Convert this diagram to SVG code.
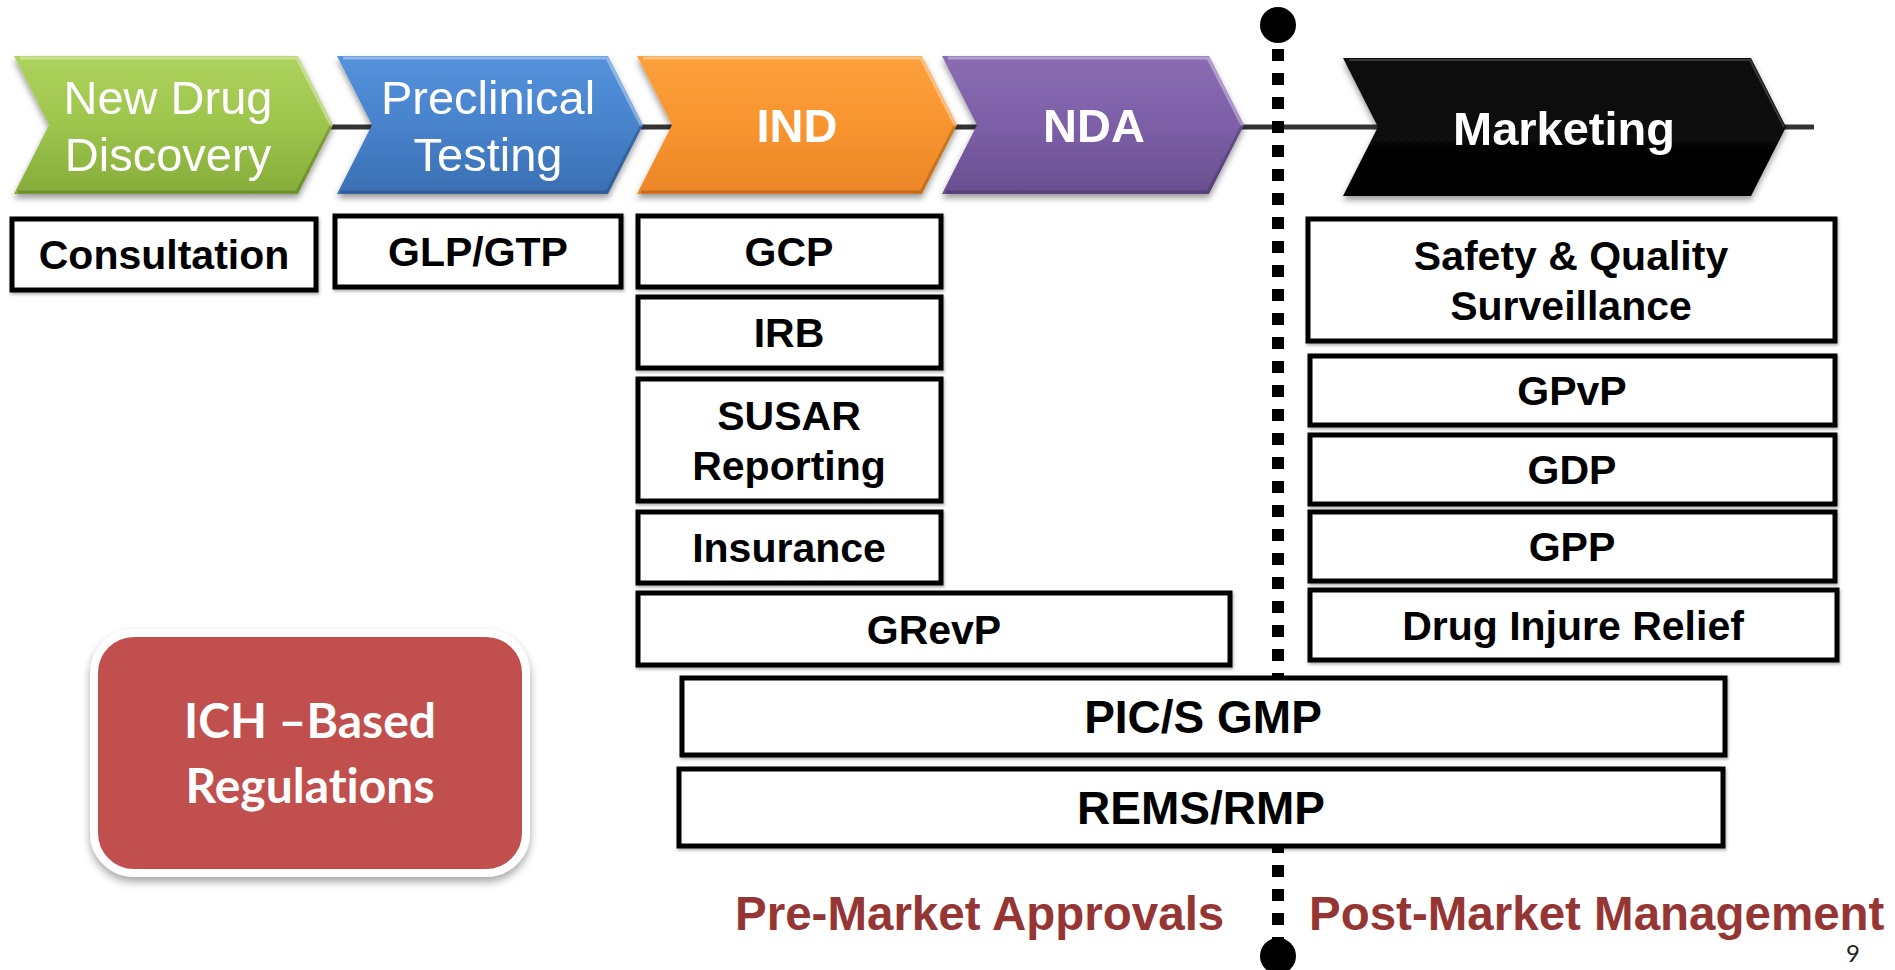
<svg xmlns="http://www.w3.org/2000/svg" width="1895" height="970" viewBox="0 0 1895 970">
  <defs>
    <linearGradient id="gGreen" x1="0" y1="0" x2="0" y2="1">
      <stop offset="0" stop-color="#aed35e"/>
      <stop offset="0.5" stop-color="#9dc44c"/>
      <stop offset="1" stop-color="#86ad3a"/>
    </linearGradient>
    <linearGradient id="gBlue" x1="0" y1="0" x2="0" y2="1">
      <stop offset="0" stop-color="#5592dc"/>
      <stop offset="0.5" stop-color="#4883cc"/>
      <stop offset="1" stop-color="#3a6fb3"/>
    </linearGradient>
    <linearGradient id="gOrange" x1="0" y1="0" x2="0" y2="1">
      <stop offset="0" stop-color="#fca03c"/>
      <stop offset="0.5" stop-color="#f8952f"/>
      <stop offset="1" stop-color="#ec8628"/>
    </linearGradient>
    <linearGradient id="gPurple" x1="0" y1="0" x2="0" y2="1">
      <stop offset="0" stop-color="#8a6db3"/>
      <stop offset="0.5" stop-color="#7c5fa7"/>
      <stop offset="1" stop-color="#6a4e90"/>
    </linearGradient>
    <linearGradient id="gBlack" x1="0" y1="0" x2="0" y2="1">
      <stop offset="0" stop-color="#111"/>
      <stop offset="1" stop-color="#000"/>
    </linearGradient>
    <filter id="chevShadow" x="-10%" y="-20%" width="120%" height="150%">
      <feDropShadow dx="0" dy="4" stdDeviation="3" flood-color="#000" flood-opacity="0.4"/>
    </filter>
    <filter id="boxShadow" x="-5%" y="-10%" width="110%" height="130%">
      <feDropShadow dx="1" dy="2" stdDeviation="1.5" flood-color="#000" flood-opacity="0.3"/>
    </filter>
    <filter id="ichShadow" x="-10%" y="-10%" width="120%" height="130%">
      <feDropShadow dx="0" dy="5" stdDeviation="4" flood-color="#000" flood-opacity="0.35"/>
    </filter>
  </defs>
  <style>
    .chev-text { font-family: "Liberation Sans", Arial, sans-serif; fill: #fff; text-anchor: middle; font-size: 47px; }
    .chev-bold { font-weight: bold; }
    .bevel-hi { fill: none; stroke: #fff; stroke-opacity: 0.35; stroke-width: 3; }
    .bevel-lo { fill: none; stroke: #000; stroke-opacity: 0.18; stroke-width: 3; }
    .box rect { fill: #fff; stroke: #000; stroke-width: 5; filter: url(#boxShadow); }
    .box text { font-family: "Liberation Sans", Arial, sans-serif; font-weight: bold; font-size: 41px; fill: #000; text-anchor: middle; }
    .box.big text { font-size: 46px; }
    .phase { font-family: "Liberation Sans", Arial, sans-serif; font-weight: bold; font-size: 47.5px; fill: #963634; }
    .ich-text { font-family: Lato, "Open Sans", sans-serif; font-weight: bold; font-size: 48px; fill: #fff; text-anchor: middle; font-variant-ligatures: none; }
  </style>

  <rect width="1895" height="970" fill="#fff"/>

  <!-- timeline spine and market divider -->
  <g id="connectors">
    <line x1="290" y1="127" x2="1814" y2="127" stroke="#333" stroke-width="5"/>
    <line x1="1278" y1="49" x2="1278" y2="940" stroke="#000" stroke-width="12" stroke-dasharray="12 12"/>
    <circle cx="1278" cy="25" r="18" fill="#000"/>
    <circle cx="1278" cy="956" r="18" fill="#000"/>
  </g>

  <!-- process chevrons -->
  <g id="chev-discovery" filter="url(#chevShadow)">
    <polygon points="14,56 298,56 333,125 298,194 14,194 49,125" fill="url(#gGreen)"/>
    <polyline class="bevel-hi" points="20,58 297,58 331,125"/>
    <polyline class="bevel-lo" points="331,126 297,192 18,192"/>
    <text class="chev-text" x="168" y="114">New Drug</text>
    <text class="chev-text" x="168" y="171">Discovery</text>
  </g>
  <g id="chev-preclinical" filter="url(#chevShadow)">
    <polygon points="337,56 608,56 643,125 608,194 337,194 372,125" fill="url(#gBlue)"/>
    <polyline class="bevel-hi" points="343,58 607,58 641,125"/>
    <polyline class="bevel-lo" points="641,126 607,192 341,192"/>
    <text class="chev-text" x="488" y="114">Preclinical</text>
    <text class="chev-text" x="488" y="171">Testing</text>
  </g>
  <g id="chev-ind" filter="url(#chevShadow)">
    <polygon points="637,56 922,56 957,125 922,194 637,194 672,125" fill="url(#gOrange)"/>
    <polyline class="bevel-hi" points="643,58 921,58 955,125"/>
    <polyline class="bevel-lo" points="955,126 921,192 641,192"/>
    <text class="chev-text chev-bold" x="797" y="142">IND</text>
  </g>
  <g id="chev-nda" filter="url(#chevShadow)">
    <polygon points="942,56 1209,56 1244,125 1209,194 942,194 977,125" fill="url(#gPurple)"/>
    <polyline class="bevel-hi" points="948,58 1208,58 1242,125"/>
    <polyline class="bevel-lo" points="1242,126 1208,192 946,192"/>
    <text class="chev-text chev-bold" x="1094" y="142">NDA</text>
  </g>
  <g id="chev-marketing" filter="url(#chevShadow)">
    <polygon points="1343,58 1751,58 1786,127 1751,196 1343,196 1378,127" fill="url(#gBlack)"/>
    <polyline points="1349,60 1750,60 1784,127" fill="none" stroke="#555" stroke-opacity="0.6" stroke-width="2"/>
    <text class="chev-text chev-bold" x="1564" y="145">Marketing</text>
  </g>

  <!-- regulation boxes -->
  <g id="box-consultation" class="box">
    <rect x="12" y="219" width="304" height="71"/>
    <text x="164" y="269">Consultation</text>
  </g>
  <g id="box-glp" class="box">
    <rect x="335" y="216" width="286" height="71"/>
    <text x="478" y="266">GLP/GTP</text>
  </g>
  <g id="box-gcp" class="box">
    <rect x="638" y="216" width="303" height="71"/>
    <text x="789" y="266">GCP</text>
  </g>
  <g id="box-irb" class="box">
    <rect x="638" y="297" width="303" height="71"/>
    <text x="789" y="347">IRB</text>
  </g>
  <g id="box-susar" class="box">
    <rect x="638" y="379" width="303" height="122"/>
    <text x="789" y="430">SUSAR</text>
    <text x="789" y="480">Reporting</text>
  </g>
  <g id="box-insurance" class="box">
    <rect x="638" y="512" width="303" height="71"/>
    <text x="789" y="562">Insurance</text>
  </g>
  <g id="box-grevp" class="box">
    <rect x="638" y="593" width="592" height="72"/>
    <text x="934" y="644">GRevP</text>
  </g>
  <g id="box-safety" class="box">
    <rect x="1308" y="219" width="527" height="122"/>
    <text x="1571" y="270">Safety &amp; Quality</text>
    <text x="1571" y="320">Surveillance</text>
  </g>
  <g id="box-gpvp" class="box">
    <rect x="1310" y="356" width="525" height="69"/>
    <text x="1572" y="405">GPvP</text>
  </g>
  <g id="box-gdp" class="box">
    <rect x="1310" y="435" width="525" height="69"/>
    <text x="1572" y="484">GDP</text>
  </g>
  <g id="box-gpp" class="box">
    <rect x="1310" y="512" width="525" height="69"/>
    <text x="1572" y="561">GPP</text>
  </g>
  <g id="box-relief" class="box">
    <rect x="1310" y="590" width="527" height="70"/>
    <text x="1573" y="640">Drug Injure Relief</text>
  </g>
  <g id="box-gmp" class="box big">
    <rect x="682" y="678" width="1043" height="77"/>
    <text x="1203" y="733">PIC/S GMP</text>
  </g>
  <g id="box-rems" class="box big">
    <rect x="679" y="769" width="1044" height="77"/>
    <text x="1201" y="824">REMS/RMP</text>
  </g>

  <!-- ICH note -->
  <g id="ich-note">
    <rect x="94" y="633" width="432" height="240" rx="40" ry="40" fill="#c0504d" stroke="#fff" stroke-width="8" filter="url(#ichShadow)"/>
    <text class="ich-text" x="310" y="738">ICH –Based</text>
    <text class="ich-text" x="310" y="803">Regulations</text>
  </g>

  <!-- phase labels -->
  <g id="phase-labels">
    <text class="phase" x="735" y="930">Pre-Market Approvals</text>
    <text class="phase" x="1309" y="930">Post-Market Management</text>
  </g>

  <text x="1853" y="962" font-family="Lato, 'Liberation Sans', sans-serif" font-size="24" fill="#222" text-anchor="middle">9</text>
</svg>
